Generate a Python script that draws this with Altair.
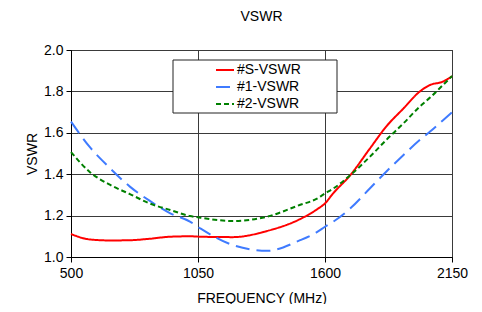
import altair as alt
import pandas as pd

freq = [500, 580, 670, 755, 840, 930, 1015, 1060, 1200, 1350, 1490, 1565,
        1600, 1635, 1710, 1795, 1865, 1940, 2010, 2055, 2110, 2150]
vswr_s = [1.111, 1.085, 1.080, 1.081, 1.088, 1.098, 1.100, 1.098, 1.096, 1.126, 1.182, 1.230,
          1.259, 1.307, 1.396, 1.525, 1.630, 1.718, 1.799, 1.831, 1.847, 1.873]
vswr_1 = [1.654, 1.533, 1.428, 1.340, 1.272, 1.211, 1.171, 1.138, 1.058, 1.030, 1.080, 1.120,
          1.146, 1.170, 1.235, 1.332, 1.412, 1.493, 1.565, 1.606, 1.660, 1.699]
vswr_2 = [1.507, 1.412, 1.348, 1.304, 1.259, 1.227, 1.198, 1.190, 1.174, 1.195, 1.251, 1.282,
          1.307, 1.330, 1.396, 1.485, 1.565, 1.646, 1.726, 1.770, 1.830, 1.874]
series_names = ["#S-VSWR", "#1-VSWR", "#2-VSWR"]
series_colors = ["#FF0000", "#3F7BFF", "#008000"]
series_dashes = [[1, 0], [14, 7], [5, 3]]
x_ticks = [500, 1050, 1600, 2150]
y_ticks = [1.0, 1.2, 1.4, 1.6, 1.8, 2.0]

rows = []
for name, vals in zip(series_names, [vswr_s, vswr_1, vswr_2]):
    for f, v in zip(freq, vals):
        rows.append({"freq": f, "vswr": v, "series": name})
df = pd.DataFrame(rows)

FONT = "Liberation Sans"

legend = alt.Legend(orient="none", legendX=144, legendY=10,
                    symbolType="stroke", symbolSize=324,
                    symbolStrokeWidth=2, labelOffset=2,
                    rowPadding=0, padding=0,
                    labelFont=FONT, labelFontSize=14,
                    labelColor="black")

lines = alt.Chart(df).mark_line(strokeWidth=2, interpolate="monotone").encode(
    x=alt.X("freq:Q", title="FREQUENCY (MHz)",
            scale=alt.Scale(domain=[500, 2150], nice=False),
            axis=alt.Axis(values=x_ticks, format="d", labelPadding=4, titlePadding=11,
                          labelFlush=False, titleFontWeight="normal")),
    y=alt.Y("vswr:Q", title="VSWR",
            scale=alt.Scale(domain=[1.0, 2.0], nice=False),
            axis=alt.Axis(values=y_ticks, format=".1f", labelPadding=3, titlePadding=4,
                          labelFlush=False, titleFontWeight="normal")),
    color=alt.Color("series:N", title=None,
                    scale=alt.Scale(domain=series_names, range=series_colors),
                    legend=legend),
    strokeDash=alt.StrokeDash("series:N", title=None,
                              scale=alt.Scale(domain=series_names, range=series_dashes),
                              legend=legend),
)

box = alt.Chart(pd.DataFrame({"a": [0]})).mark_rect(
    fill="white", stroke="#222222", strokeWidth=1
).encode(x=alt.value(102), x2=alt.value(266), y=alt.value(10), y2=alt.value(63))

chart = alt.layer(box, lines).properties(
    width=381, height=207,
    title=alt.TitleParams("VSWR", font=FONT, fontSize=14, fontWeight="normal",
                          color="black", offset=19, anchor="middle"),
    autosize=alt.AutoSizeParams(type="none"),
    padding={"left": 63, "top": 42, "right": 22, "bottom": 47},
    background="white",
).configure_view(
    stroke="black", strokeWidth=1
).configure_axis(
    labelFont=FONT, labelFontSize=14, labelColor="black",
    titleFont=FONT, titleFontSize=14, titleFontWeight="normal", titleColor="black",
    domainColor="black", tickColor="black", tickSize=5,
    gridColor="#3a3a3a", gridWidth=1, gridOpacity=1,
)

chart.save("out.html", embed_options={"renderer": "svg", "actions": False})
